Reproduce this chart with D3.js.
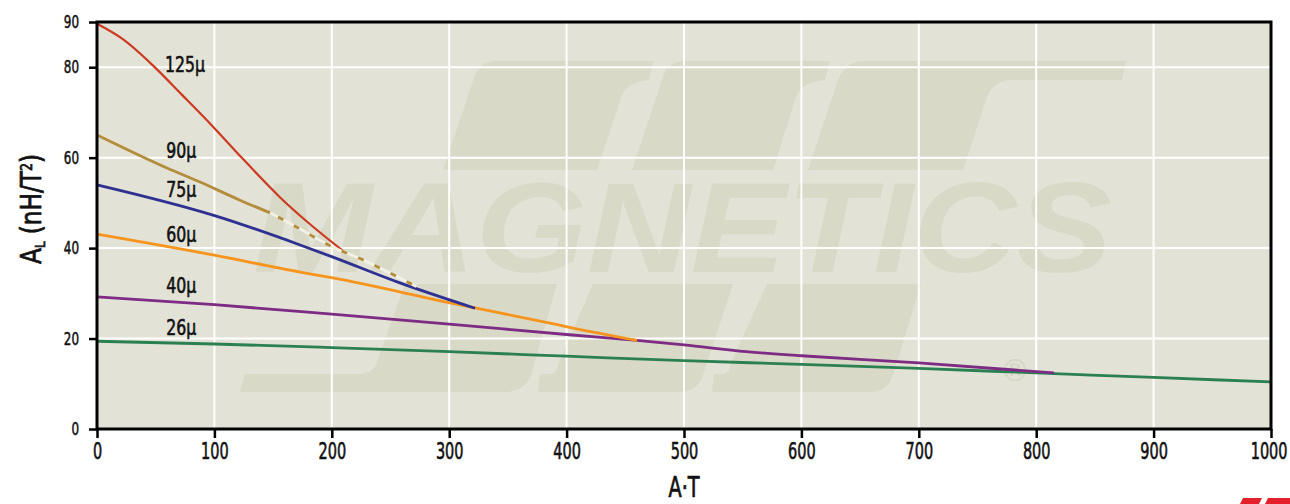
<!DOCTYPE html>
<html>
<head>
<meta charset="utf-8">
<script src="https://cdn.jsdelivr.net/npm/d3@7/dist/d3.min.js"></script>
<style>
  html, body { margin: 0; padding: 0; background: #ffffff; }
  svg { display: block; }
  text { font-family: "DejaVu Sans Condensed", "DejaVu Sans", sans-serif; }
</style>
</head>
<body>
<svg id="chart" width="1290" height="504"></svg>
<script>
// ---------------- data ----------------
const xTicks = [0, 100, 200, 300, 400, 500, 600, 700, 800, 900, 1000];
const yTicks = [0, 20, 40, 60, 80, 90];
const yGrid = [20, 40, 60, 80];

const seriesNames = ["26μ", "40μ", "60μ", "75μ", "125μ", "90μ"];
const seriesColors = ["#2b8052", "#7d2b83", "#f7941d", "#2e3192", "#cc3a22", "#b48d3c"];

const mu26x = [0, 100, 200, 300, 400, 500, 600, 700, 800, 900, 1000];
const mu26y = [19.4, 18.8, 18.0, 17.1, 16.1, 15.1, 14.3, 13.4, 12.4, 11.4, 10.4];

const mu40x = [0, 100, 200, 300, 400, 460, 500, 553, 600, 700, 815];
const mu40y = [29.2, 27.5, 25.4, 23.2, 20.9, 19.6, 18.6, 17.1, 16.2, 14.6, 12.4];

const mu60x = [0, 98.8, 173, 201, 300.7, 385.9, 400.3, 460];
const mu60y = [43.1, 38.5, 34.7, 33.4, 27.9, 23.4, 22.6, 19.6];

const mu75x = [0, 98.8, 173, 201, 258, 322];
const mu75y = [54.0, 47.3, 40.7, 38.0, 32.3, 26.7];

const mu125x = [0, 22, 48, 72, 99, 124, 156, 180, 210];
const mu125y = [89.6, 86.2, 80.3, 74.0, 66.8, 59.8, 51.2, 45.6, 39.3];

const mu90x = [0, 59.6, 87.7, 121.8, 147.4, 167, 201, 226.6, 249.6, 272];
const mu90y = [65.0, 57.7, 54.6, 50.6, 47.8, 45.1, 40.2, 37.4, 34.5, 31.5];
const mu90DashedFrom = 147.4;   // beyond this A·T the 90μ curve is drawn dashed

const seriesX = [mu26x, mu40x, mu60x, mu75x, mu125x, mu90x];
const seriesY = [mu26y, mu40y, mu60y, mu75y, mu125y, mu90y];

// label anchors (data units)
const labelX = [59, 59, 59, 59, 58, 59];
const labelY = [20.8, 30.1, 41.35, 51.3, 78.9, 59.9];

// ---------------- drawing ----------------
const svg = d3.select("#chart");
const x = d3.scaleLinear().domain([0, 1000]).range([97, 1271]);
const y = d3.scaleLinear().domain([0, 90]).range([429, 22]);

function fit(sel, perChar) {
  sel.attr("textLength", function () { return this.textContent.length * perChar; })
     .attr("lengthAdjust", "spacingAndGlyphs");
}
function heavy(sel, w) {
  sel.attr("stroke", "#111").attr("stroke-width", w).attr("paint-order", "stroke");
}

const plot = svg.append("g");
// background
plot.append("rect")
  .attr("x", x(0)).attr("y", y(90))
  .attr("width", x(1000) - x(0)).attr("height", y(0) - y(90))
  .attr("fill", "#e2e2d6");

// watermark (pixel geometry of the logo)
const wm = plot.append("g").attr("fill", "#d9d9c8");
const wmShapes = [
  "M475,75 Q480,61 498,61 L653,61 L649,80 Q628,82 622,95 L597,170 L443,170 Z",
  "M663,77 Q668,61 686,61 L830,61 L825,80 Q802,82 796,97 L773,170 L632,170 Z",
  "M838,80 Q846,61 863,61 L1126,61 L1122,80 L1010,80 Q992,82 987,97 L963,170 L808,170 Z",
  "M405,284 L557,284 L531,375 Q525,390 508,392 L240,392 L245,374 L361,374 Q375,372 377,362 Z",
  "M593,284 L733,284 L703,375 Q698,390 682,392 L538,392 L540,374 L551,374 Q557,372 558,365 Z",
  "M767,284 L921,284 L893,375 Q888,390 873,392 L712,392 L714,374 L724,374 Q730,372 730,365 Z"
];
wm.selectAll("path").data(wmShapes).join("path").attr("d", d => d);
wm.append("text")
  .attr("x", 253).attr("y", 272)
  .attr("textLength", 859).attr("lengthAdjust", "spacingAndGlyphs")
  .style("font-family", "'Liberation Sans', 'DejaVu Sans', sans-serif")
  .style("font-weight", "bold").style("font-style", "italic")
  .style("font-size", "128px")
  .text("MAGNETICS");
wm.append("text")
  .attr("x", 1015).attr("y", 381).attr("text-anchor", "middle")
  .style("font-family", "'DejaVu Sans', sans-serif")
  .style("font-size", "30px").attr("fill", "#d6d6c6")
  .text("®");

// grid
plot.append("g").selectAll("line").data(xTicks.slice(1, -1)).join("line")
  .attr("x1", d => x(d)).attr("x2", d => x(d))
  .attr("y1", y(0)).attr("y2", y(90))
  .attr("stroke", "#ffffff").attr("stroke-width", 2);
plot.append("g").selectAll("line").data(yGrid).join("line")
  .attr("x1", x(0)).attr("x2", x(1000))
  .attr("y1", d => y(d)).attr("y2", d => y(d))
  .attr("stroke", "#ffffff").attr("stroke-width", 2);

// curves
const line = d3.line().x(d => x(d[0])).y(d => y(d[1])).curve(d3.curveMonotoneX);
const lines = plot.append("g").attr("fill", "none").attr("stroke-linecap", "butt");
seriesNames.forEach((name, i) => {
  const pts = seriesX[i].map((v, j) => [v, seriesY[i][j]]);
  const sw = name === "125μ" ? 2.2 : 2.8;
  if (name === "90μ") {
    const solid = pts.filter(p => p[0] <= mu90DashedFrom);
    const dashed = pts.filter(p => p[0] >= mu90DashedFrom);
    lines.append("path").attr("d", line(solid)).attr("stroke", seriesColors[i]).attr("stroke-width", sw);
    lines.append("path").attr("d", line(dashed)).attr("stroke", "#f3f0e4").attr("stroke-width", sw);
    lines.append("path").attr("d", line(dashed)).attr("stroke", seriesColors[i])
      .attr("stroke-width", sw).attr("stroke-dasharray", "6 12").attr("stroke-dashoffset", -9);
  } else {
    lines.append("path").attr("d", line(pts)).attr("stroke", seriesColors[i]).attr("stroke-width", sw);
  }
});

// series labels
plot.append("g").selectAll("text").data(seriesNames).join("text")
  .attr("x", (d, i) => x(labelX[i])).attr("y", (d, i) => y(labelY[i]))
  .style("font-size", "22px").attr("fill", "#111")
  .text(d => d)
  .call(fit, 10)
  .call(heavy, 0.6);

// frame
plot.append("rect")
  .attr("x", x(0)).attr("y", y(90))
  .attr("width", x(1000) - x(0)).attr("height", y(0) - y(90))
  .attr("fill", "none").attr("stroke", "#000").attr("stroke-width", 3);

// axes
const xAxis = svg.append("g").attr("transform", `translate(0,${y(0)})`)
  .call(d3.axisBottom(x).tickValues(xTicks).tickSize(9).tickPadding(5).tickFormat(d3.format("d")));
xAxis.select(".domain").remove();
xAxis.selectAll(".tick line").attr("stroke", "#000").attr("stroke-width", 2.5);
xAxis.selectAll(".tick text").style("font-size", "23px").attr("fill", "#111")
  .style("font-family", "'DejaVu Sans Condensed', 'DejaVu Sans', sans-serif")
  .call(fit, 9.2)
  .call(heavy, 0.6);
xAxis.selectAll(".tick text").filter(d => d === 1000).attr("text-anchor", "end").attr("x", 16);

const yAxis = svg.append("g").attr("transform", `translate(${x(0)},0)`)
  .call(d3.axisLeft(y).tickValues(yTicks).tickSize(8).tickPadding(10).tickFormat(d3.format("d")));
yAxis.select(".domain").remove();
yAxis.selectAll(".tick line").attr("stroke", "#000").attr("stroke-width", 2.5);
yAxis.selectAll(".tick text").style("font-size", "18px").attr("fill", "#111")
  .style("font-family", "'DejaVu Sans Condensed', 'DejaVu Sans', sans-serif")
  .call(fit, 7.6)
  .call(heavy, 0.5);

// axis titles
svg.append("text")
  .attr("x", (x(0) + x(1000)) / 2).attr("y", 497)
  .attr("text-anchor", "middle")
  .style("font-size", "28px").attr("fill", "#111")
  .attr("textLength", 31).attr("lengthAdjust", "spacingAndGlyphs")
  .text("A·T")
  .call(heavy, 0.7);

const yt = svg.append("text")
  .attr("transform", `translate(41,209) rotate(-90)`)
  .attr("text-anchor", "middle")
  .style("font-size", "28px").attr("fill", "#111")
  .attr("textLength", 110).attr("lengthAdjust", "spacingAndGlyphs")
  .call(heavy, 0.7);
yt.append("tspan").text("A");
yt.append("tspan").attr("baseline-shift", "-25%").style("font-size", "14px").text("L");
yt.append("tspan").text(" (nH/T");
yt.append("tspan").attr("baseline-shift", "super").style("font-size", "15px").text("2");
yt.append("tspan").text(")");

// corner logo fragment
svg.append("g").attr("fill", "#e3202c").selectAll("path")
  .data(["M1240,504 L1243,498 L1262,498 L1259,504 Z", "M1265,504 L1268,498 L1290,498 L1290,504 Z"])
  .join("path").attr("d", d => d);
</script>
</body>
</html>
